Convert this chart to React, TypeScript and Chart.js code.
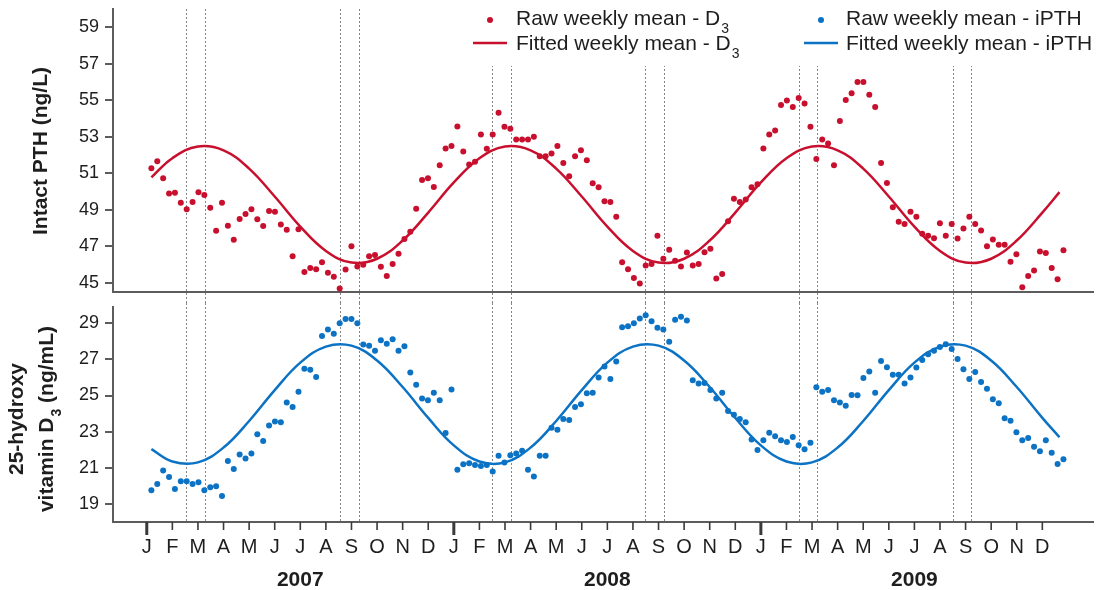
import React, { useEffect, useRef } from "react";
import { Chart, registerables } from "chart.js";
Chart.register(...registerables);

const FONT = "'Liberation Sans', Arial, Helvetica, sans-serif";
const RED = "#C8102E";
const BLUE = "#0B72C4";
const AXIS = "#5c5c5c";
const TEXT = "#1e1e1e";

const monthLabels = ["J", "F", "M", "A", "M", "J", "J", "A", "S", "O", "N", "D"];
const yearLabels = ["2007", "2008", "2009"];
const pthTicks = [45, 47, 49, 51, 53, 55, 57, 59];
const d3Ticks = [19, 21, 23, 25, 27, 29];
// months since Jan 2007 of the dotted reference lines
const eventMonths = [1.52, 2.26, 7.55, 8.29, 13.48, 14.22, 19.49, 20.2, 25.48, 26.21, 31.49, 32.22];

// weekly series: first week at 0.18 months, one week = 12/52.18 months
const firstWeekMonth = 0.18;
const monthsPerWeek = 12 / 52.18;

const rawPTH = [
  51.28, 51.66, 50.73, 49.89, 49.94, 49.39, 49.03, 49.43, 49.96, 49.81,
  49.12, 47.86, 49.39, 48.13, 47.36, 48.5, 48.77, 49.03, 48.48, 48.11,
  48.94, 48.9, 48.2, 47.91, 46.46, 47.93, 45.6, 45.81, 45.75, 46.13,
  45.55, 45.33, 44.69, 45.73, 47.0, 45.9, 45.99, 46.46, 46.52, 45.88,
  45.38, 46.04, 46.59, 47.4, 47.8, 49.06, 50.64, 50.73, 50.25, 51.44,
  52.36, 52.49, 53.57, 52.19, 51.48, 51.63, 53.13, 52.34, 53.13, 54.32,
  53.55, 53.44, 52.85, 52.85, 52.85, 53.0, 51.94, 51.94, 52.08, 52.49,
  51.57, 50.84, 51.94, 52.27, 51.72, 50.45, 50.24, 49.47, 49.43, 48.62,
  46.13, 45.75, 45.27, 44.96, 45.95, 46.03, 47.58, 46.32, 46.81, 46.21,
  45.9, 46.67, 45.95, 46.03, 46.68, 46.87, 45.24, 45.48, 48.37, 49.61,
  49.43, 49.56, 50.24, 50.4, 52.36, 53.13, 53.35, 54.74, 54.99, 54.63,
  55.12, 54.83, 53.55, 51.79, 52.85, 52.63, 51.44, 53.86, 55.01, 55.38,
  56.0, 56.0, 55.31, 54.63, 51.57, 50.47, 49.14, 48.35, 48.22, 48.9,
  48.62, 47.69, 47.58, 47.45, 48.26, 47.58, 48.22, 47.43, 47.98, 48.62,
  48.22, 47.87, 47.0, 47.38, 47.09, 47.09, 46.15, 46.57, 44.76, 45.38,
  45.68, 46.72, 46.63, 45.81, 45.2, 46.79,
];

const rawD3 = [
  19.76, 20.11, 20.85, 20.49, 19.83, 20.25, 20.25, 20.11, 20.2, 19.76,
  19.93, 19.98, 19.44, 21.38, 20.94, 21.74, 21.52, 21.79, 22.85, 22.48,
  23.34, 23.56, 23.52, 24.61, 24.37, 25.21, 26.48, 26.42, 26.02, 28.29,
  28.66, 28.42, 29.0, 29.24, 29.24, 29.0, 27.82, 27.75, 27.48, 28.06,
  27.87, 28.11, 27.48, 27.73, 26.28, 25.59, 24.83, 24.74, 25.15, 24.74,
  22.92, 25.33, 20.89, 21.2, 21.25, 21.16, 21.1, 21.16, 20.8, 21.67,
  21.3, 21.7, 21.79, 21.94, 20.89, 20.52, 21.67, 21.67, 23.21, 23.1,
  23.7, 23.65, 24.37, 24.52, 25.12, 25.15, 26.0, 26.6, 25.91, 26.88,
  28.78, 28.84, 29.0, 29.27, 29.45, 29.11, 28.75, 28.66, 27.97, 29.2,
  29.36, 29.15, 25.84, 25.66, 25.7, 25.3, 24.84, 25.15, 24.15, 23.94,
  23.7, 23.52, 22.56, 21.98, 22.52, 22.94, 22.74, 22.52, 22.43, 22.7,
  22.25, 22.03, 22.38, 25.46, 25.21, 25.3, 24.74, 24.61, 24.43, 25.03,
  25.01, 25.97, 26.33, 25.15, 26.91, 26.57, 26.15, 26.15, 25.66, 26.0,
  26.55, 26.97, 27.28, 27.48, 27.69, 27.84, 27.57, 27.02, 26.46, 25.91,
  26.3, 25.75, 25.37, 24.79, 24.57, 23.74, 23.61, 22.97, 22.52, 22.65,
  22.16, 21.92, 22.52, 21.83, 21.21, 21.47,
];

const fitMonths = [
  0.18, 1, 2, 3, 4, 5, 6, 7, 8, 9, 10, 11, 12, 13, 14, 15, 16, 17, 18,
  19, 20, 21, 22, 23, 24, 25, 26, 27, 28, 29, 30, 31, 32, 33, 34, 35, 35.67,
];
const fitPTH = [
  50.78, 51.83, 52.47, 52.26, 51.26, 49.73, 48.08, 46.75, 46.11, 46.32, 47.32, 48.85,
  50.5, 51.83, 52.47, 52.26, 51.26, 49.73, 48.08, 46.75, 46.11, 46.32, 47.32, 48.85,
  50.5, 51.83, 52.47, 52.26, 51.26, 49.73, 48.08, 46.75, 46.11, 46.32, 47.32, 48.85,
  49.97,
];
const fitD3 = [
  22.03, 21.35, 21.3, 22.12, 23.59, 25.3, 26.82, 27.71, 27.76, 26.94, 25.47, 23.76,
  22.24, 21.35, 21.3, 22.12, 23.59, 25.3, 26.82, 27.71, 27.76, 26.94, 25.47, 23.76,
  22.24, 21.35, 21.3, 22.12, 23.59, 25.3, 26.82, 27.71, 27.76, 26.94, 25.47, 23.76,
  22.69,
];

const X_MIN = -1.32;
const X_MAX = 36.98;
const W = 1097;
const TOP_H = 303;
const BOT_H = 287;

function rawPts(vals: (number | null)[]) {
  return vals.map((v, k) => ({ x: firstWeekMonth + k * monthsPerWeek, y: v }));
}
function fitPts(vals: number[]) {
  return vals.map((v, i) => ({ x: fitMonths[i], y: v }));
}

function vlinesPlugin(yTop: (c: any) => number, yBot: (c: any) => number) {
  return {
    id: "vlines",
    beforeDatasetsDraw(chart: any) {
      const { ctx } = chart;
      const xs = chart.scales.x;
      ctx.save();
      ctx.strokeStyle = "#858585";
      ctx.lineWidth = 1;
      ctx.setLineDash([2, 2]);
      for (const m of eventMonths) {
        const x = Math.round(xs.getPixelForValue(m)) + 0.5;
        ctx.beginPath();
        ctx.moveTo(x, yTop(chart));
        ctx.lineTo(x, yBot(chart));
        ctx.stroke();
      }
      ctx.restore();
    },
  };
}

function textWithSub(ctx: CanvasRenderingContext2D, x: number, y: number, main: string, sub: string, size: number, weight = "") {
  ctx.font = `${weight} ${size}px ${FONT}`;
  ctx.fillText(main, x, y);
  const w = ctx.measureText(main).width;
  ctx.font = `${weight} ${Math.round(size * 0.66)}px ${FONT}`;
  ctx.fillText(sub, x + w + 1, y + Math.round(size * 0.4));
}

function baseScales(yMin: number, yMax: number, ticks: number[], xHeight: number) {
  return {
    x: {
      type: "linear",
      min: X_MIN,
      max: X_MAX,
      grid: { display: false },
      border: { display: true, color: AXIS, width: 2 },
      ticks: { display: false },
      afterFit: (s: any) => {
        s.height = xHeight;
        s.paddingLeft = 0;
        s.paddingRight = 0;
      },
    },
    y: {
      type: "linear",
      min: yMin,
      max: yMax,
      afterBuildTicks: (s: any) => {
        s.ticks = ticks.map((v) => ({ value: v }));
      },
      ticks: {
        font: { size: 18, family: FONT },
        color: TEXT,
        padding: 6,
        autoSkip: false,
        callback: (v: any) => String(v),
      },
      grid: { display: true, drawOnChartArea: false, drawTicks: true, tickLength: 8, color: AXIS, lineWidth: 2 },
      border: { display: true, color: AXIS, width: 2 },
      afterFit: (s: any) => {
        s.width = 113;
        s.paddingTop = 0;
        s.paddingBottom = 0;
      },
    },
  };
}

export default function App() {
  const topRef = useRef<HTMLCanvasElement>(null);
  const botRef = useRef<HTMLCanvasElement>(null);

  useEffect(() => {
    document.body.style.margin = "0";
    Chart.defaults.font.family = FONT;
    Chart.defaults.color = TEXT;

    const topDecor = {
      id: "topDecor",
      afterDraw(chart: any) {
        const { ctx } = chart;
        ctx.save();
        // y title
        ctx.fillStyle = TEXT;
        ctx.translate(47, 151);
        ctx.rotate(-Math.PI / 2);
        ctx.font = `bold 21px ${FONT}`;
        ctx.textAlign = "center";
        ctx.textBaseline = "alphabetic";
        ctx.fillText("Intact PTH (ng/L)", 0, 0);
        ctx.restore();

        // legend
        ctx.save();
        ctx.fillStyle = "#ffffff";
        ctx.fillRect(466, 0, W - 466, 66);
        ctx.textAlign = "left";
        ctx.textBaseline = "alphabetic";
        // red dot
        ctx.fillStyle = RED;
        ctx.beginPath();
        ctx.arc(490, 20, 3, 0, Math.PI * 2);
        ctx.fill();
        ctx.strokeStyle = RED;
        ctx.lineWidth = 2.5;
        ctx.beginPath();
        ctx.moveTo(473, 43);
        ctx.lineTo(507, 43);
        ctx.stroke();
        ctx.fillStyle = BLUE;
        ctx.beginPath();
        ctx.arc(821, 20, 3, 0, Math.PI * 2);
        ctx.fill();
        ctx.strokeStyle = BLUE;
        ctx.beginPath();
        ctx.moveTo(804, 43);
        ctx.lineTo(838, 43);
        ctx.stroke();
        ctx.fillStyle = TEXT;
        textWithSub(ctx, 516, 25, "Raw weekly mean - D", "3", 21);
        textWithSub(ctx, 516, 50, "Fitted weekly mean - D", "3", 21);
        ctx.font = `21px ${FONT}`;
        ctx.fillText("Raw weekly mean - iPTH", 846, 25);
        ctx.fillText("Fitted weekly mean - iPTH", 846, 50);
        ctx.restore();
      },
    };

    const botDecor = {
      id: "botDecor",
      afterDraw(chart: any) {
        const { ctx, chartArea } = chart;
        const xs = chart.scales.x;
        const y0 = chartArea.bottom;
        ctx.save();
        ctx.strokeStyle = "#3a3a3a";
        for (let m = 0; m < 36; m++) {
          const x = xs.getPixelForValue(m);
          const jan = m % 12 === 0;
          ctx.lineWidth = jan ? 3 : 1.6;
          ctx.beginPath();
          ctx.moveTo(x, y0);
          ctx.lineTo(x, y0 + (jan ? 13 : 8));
          ctx.stroke();
        }
        ctx.fillStyle = TEXT;
        ctx.textAlign = "center";
        ctx.textBaseline = "alphabetic";
        ctx.font = `20px ${FONT}`;
        for (let m = 0; m < 36; m++) {
          ctx.fillText(monthLabels[m % 12], xs.getPixelForValue(m), y0 + 31);
        }
        ctx.font = `bold 21px ${FONT}`;
        yearLabels.forEach((yl, i) => {
          ctx.fillText(yl, xs.getPixelForValue(6 + 12 * i), y0 + 64);
        });
        ctx.restore();

        // y title (two lines, subscript)
        ctx.save();
        ctx.fillStyle = TEXT;
        ctx.rotate(-Math.PI / 2);
        const cy = 116;
        ctx.textBaseline = "alphabetic";
        ctx.textAlign = "center";
        ctx.font = `bold 21px ${FONT}`;
        ctx.fillText("25-hydroxy", -cy, 23);
        ctx.textAlign = "left";
        const p1 = "vitamin D";
        const p3 = " (ng/mL)";
        ctx.font = `bold 21px ${FONT}`;
        const w1 = ctx.measureText(p1).width;
        const w3 = ctx.measureText(p3).width;
        ctx.font = `bold 14px ${FONT}`;
        const w2 = ctx.measureText("3").width + 1;
        const start = -cy - (w1 + w2 + w3) / 2;
        ctx.font = `bold 21px ${FONT}`;
        ctx.fillText(p1, start, 53);
        ctx.fillText(p3, start + w1 + w2, 53);
        ctx.font = `bold 14px ${FONT}`;
        ctx.fillText("3", start + w1 + 1, 61);
        ctx.restore();
      },
    };

    const common = {
      responsive: false,
      animation: false as const,
      events: [] as any[],
      plugins: { legend: { display: false }, tooltip: { enabled: false } },
    };

    const top = new Chart(topRef.current!, {
      type: "line",
      data: {
        datasets: [
          { data: fitPts(fitPTH), borderColor: RED, borderWidth: 2.5, pointRadius: 0, tension: 0.4, fill: false },
          { data: rawPts(rawPTH), showLine: false, pointRadius: 3, pointBackgroundColor: RED, pointBorderWidth: 0, borderColor: RED },
        ],
      } as any,
      options: {
        ...common,
        layout: { padding: { top: 9, left: 0, right: 0, bottom: 0 } },
        scales: baseScales(44.5, 60, pthTicks, TOP_H - 292) as any,
      } as any,
      plugins: [vlinesPlugin((c) => c.chartArea.top, (c) => c.height), topDecor],
    });

    const bot = new Chart(botRef.current!, {
      type: "line",
      data: {
        datasets: [
          { data: fitPts(fitD3), borderColor: BLUE, borderWidth: 2.5, pointRadius: 0, tension: 0.4, fill: false },
          { data: rawPts(rawD3), showLine: false, pointRadius: 3, pointBackgroundColor: BLUE, pointBorderWidth: 0, borderColor: BLUE },
        ],
      } as any,
      options: {
        ...common,
        layout: { padding: { top: 0, left: 0, right: 0, bottom: 0 } },
        scales: baseScales(18, 29.9, d3Ticks, BOT_H - 219) as any,
      } as any,
      plugins: [vlinesPlugin(() => 0, (c) => c.chartArea.bottom), botDecor],
    });

    return () => {
      top.destroy();
      bot.destroy();
    };
  }, []);

  return (
    <div style={{ position: "absolute", left: 0, top: 0, width: W, height: TOP_H + BOT_H, background: "#fff" }}>
      <canvas ref={topRef} width={W} height={TOP_H} style={{ position: "absolute", left: 0, top: 0, display: "block" }} />
      <canvas ref={botRef} width={W} height={BOT_H} style={{ position: "absolute", left: 0, top: TOP_H, display: "block" }} />
    </div>
  );
}
